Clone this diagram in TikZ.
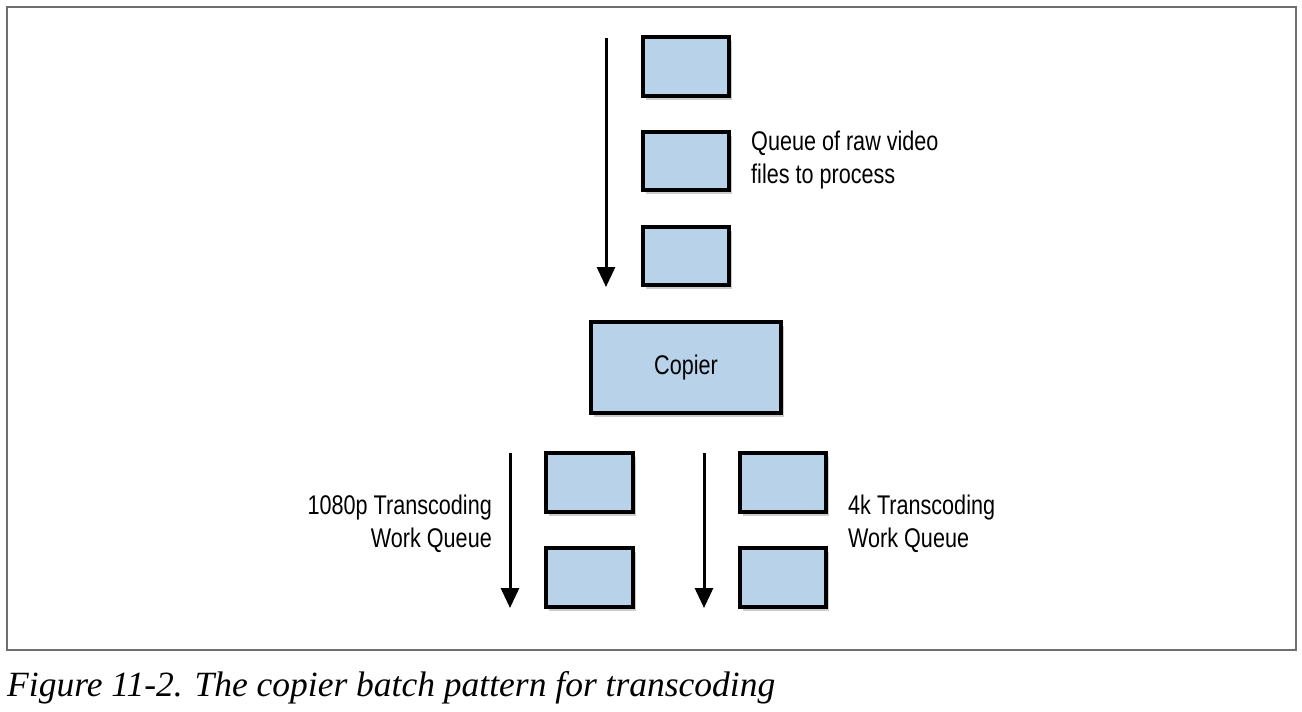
\documentclass[tikz,border=0pt]{standalone}
\usepackage{fontspec}
\setmainfont{Liberation Serif}
\newfontfamily\lblfont[FakeStretch=0.8]{Liberation Sans}
\usetikzlibrary{arrows.meta,shadows}
\definecolor{boxblue}{HTML}{B8D2EA}
\definecolor{framegray}{HTML}{6E6E6E}
\tikzset{
  qbox/.style={draw=black, line width=3.5pt, fill=boxblue, inner sep=0pt,
    drop shadow={shadow xshift=3pt, shadow yshift=-4pt, opacity=0.2, fill=black}},
  flow/.style={line width=3pt, -{Triangle[width=18pt,length=20pt]}},
  lbl/.style={font=\lblfont\fontsize{27}{33}\selectfont, inner sep=0pt}
}
\begin{document}
\begin{tikzpicture}[x=1pt,y=-1pt]
\useasboundingbox (0,0) rectangle (1302,712);
\draw[framegray, line width=1.2pt] (7,7) rectangle (1296,650);
% top queue
\node[qbox, minimum width=86pt, minimum height=59pt] (t1) at (686,66.5) {};
\node[qbox, minimum width=86pt, minimum height=58pt] (t2) at (686,161) {};
\node[qbox, minimum width=86pt, minimum height=58pt] (t3) at (686,256) {};
\coordinate (ta) at (606,38);
\coordinate (tb) at (606,287);
\draw[flow] (ta) -- (tb);
\node[lbl, anchor=west, align=left] (tq) at (751,160) {Queue of raw video\\files to process};
% copier
\node[qbox, minimum width=190pt, minimum height=91pt, font=\lblfont\fontsize{27}{33}\selectfont] (cp) at (686,367.5) {Copier};
% left queue
\node[qbox, minimum width=87pt, minimum height=59pt] (l1) at (589.5,482.5) {};
\node[qbox, minimum width=87pt, minimum height=59pt] (l2) at (589.5,577.5) {};
\coordinate (la) at (510,453);
\coordinate (lb) at (510,608);
\draw[flow] (la) -- (lb);
\node[lbl, anchor=east, align=right] (lq) at (492,524) {1080p Transcoding\\Work Queue};
% right queue
\node[qbox, minimum width=86pt, minimum height=59pt] (r1) at (783,482.5) {};
\node[qbox, minimum width=86pt, minimum height=59pt] (r2) at (783,577.5) {};
\coordinate (ra) at (704,453);
\coordinate (rb) at (704,608);
\draw[flow] (ra) -- (rb);
\node[lbl, anchor=west, align=left] (rq) at (848,524) {4k Transcoding\\Work Queue};
% caption
\node[anchor=base west, inner sep=0pt, font=\itshape\fontsize{35.5}{40}\selectfont] (cap) at (7,696) {Figure 11-2. The copier batch pattern for transcoding};
\end{tikzpicture}
\end{document}
